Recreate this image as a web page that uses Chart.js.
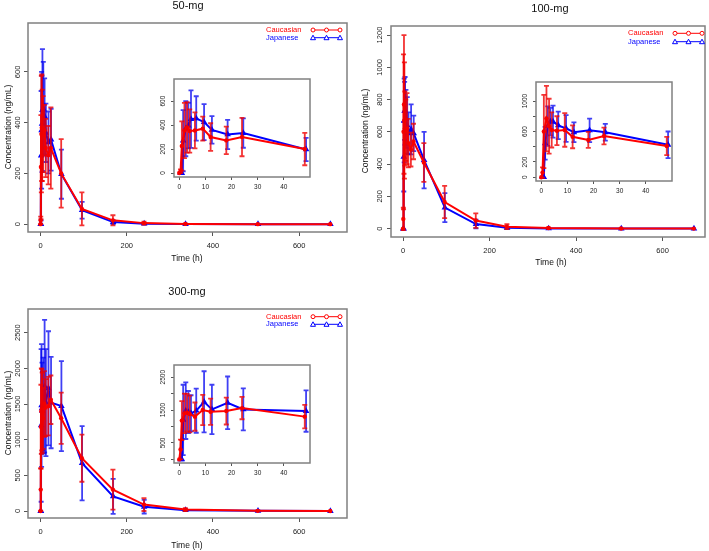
<!DOCTYPE html>
<html>
<head>
<meta charset="utf-8">
<script src="https://cdn.jsdelivr.net/npm/chart.js@4.4.0/dist/chart.umd.min.js"></script>
<style>
body { margin: 0; background: #fff; width: 709px; height: 551px; position: relative; overflow: hidden; }
canvas { position: absolute; }
</style>
</head>
<body>
<canvas id="main50" width="354" height="272" style="left:0;top:0"></canvas>
<canvas id="main100" width="353" height="272" style="left:356px;top:0"></canvas>
<canvas id="main300" width="354" height="271" style="left:0;top:280px"></canvas>
<canvas id="inset50" width="170" height="125" style="left:150px;top:70px"></canvas>
<canvas id="inset100" width="170" height="125" style="left:512px;top:72px"></canvas>
<canvas id="inset300" width="170" height="125" style="left:150px;top:355px"></canvas>
<script>
// Sampling times (h)
const cauTimes = [0, 0.5, 1, 2, 3, 4, 6, 9, 12, 18, 24, 48, 96, 168, 240, 336, 504, 672];
const jpnTimes = [0.5, 1, 1.5, 2.5, 3.5, 4.5, 6.5, 9.5, 12.5, 18.5, 24.5, 48.5, 96.5, 168.5, 240.5, 336.5, 504.5, 672.5];
const insetCount = 12; // points up to 48 h

// 50 mg (mean, SD)
const cau50   = [0, 15, 225, 355, 380, 350, 355, 370, 300, 272, 300, 200, 60, 15, 4, 1, 0, 0];
const cau50sd = [0, 15, 205, 230, 210, 180, 150, 100, 115, 115, 160, 135, 65, 20, 6, 1, 0, 0];
const jpn50   = [0, 0, 270, 370, 395, 450, 455, 425, 360, 322, 333, 197, 55, 8, 2, 0.5, 0, 0];
const jpn50sd = [0, 0, 255, 230, 190, 240, 185, 150, 115, 122, 122, 97, 33, 8, 3, 1, 0, 0];

// 100 mg
const cau100   = [0, 60, 600, 770, 670, 620, 610, 620, 530, 490, 540, 410, 165, 50, 12, 4, 1, 0];
const cau100sd = [0, 70, 480, 430, 360, 230, 190, 220, 150, 105, 110, 120, 100, 45, 15, 4, 1, 0];
const jpn100   = [0, 0, 445, 670, 730, 730, 680, 640, 590, 615, 590, 425, 130, 28, 5, 1, 0, 0];
const jpn100sd = [0, 0, 215, 260, 180, 210, 180, 175, 130, 155, 110, 175, 90, 27, 6, 2, 0, 0];

// 300 mg
const cau300   = [0, 300, 1180, 1400, 1420, 1380, 1300, 1500, 1450, 1470, 1560, 1300, 740, 300, 90, 20, 2, 0];
const cau300sd = [0, 300, 590, 600, 570, 560, 430, 460, 400, 410, 340, 360, 330, 280, 90, 20, 3, 0];
const jpn300   = [0, 0, 1200, 1480, 1440, 1400, 1480, 1750, 1520, 1720, 1520, 1470, 670, 205, 60, 12, 2, 0];
const jpn300sd = [0, 0, 1070, 860, 640, 550, 670, 930, 750, 800, 640, 630, 520, 245, 95, 15, 3, 0];

// Tick values
const xTicksMain = [0, 200, 400, 600];
const xTicksInset = [0, 10, 20, 30, 40];
const yTicks50 = [0, 200, 400, 600];
const yTicks100 = [0, 200, 400, 600, 800, 1000, 1200];
const yTicks300 = [0, 500, 1000, 1500, 2000, 2500];
const yTicksInset100 = [0, 200, 400, 600, 800, 1000];
const yLabelsInset100 = [0, 200, 600, 1000];
const yTicksInset300 = [0, 500, 1000, 1500, 2000, 2500];
const yLabelsInset300 = [0, 500, 1500, 2500];

const FONT = '"Liberation Sans", Arial, sans-serif';
const RED = '#ff0000';
const BLUE = '#0000ff';

function pts(times, vals, n) {
    return vals.slice(0, n).map((v, i) => ({ x: times[i], y: v }));
}

// error bars drawn right after each dataset
const errorBars = {
    id: 'errorBars',
    afterDatasetDraw(chart, args) {
        const ds = chart.data.datasets[args.index];
        if (!ds.sd) return;
        const xs = chart.scales.x, ys = chart.scales.y, a = chart.chartArea, ctx = chart.ctx;
        ctx.save();
        ctx.beginPath();
        ctx.rect(a.left, a.top, a.right - a.left, a.bottom - a.top);
        ctx.clip();
        ctx.strokeStyle = ds.barColor;
        ctx.lineWidth = 1.8;
        ds.data.forEach((p, i) => {
            const s = ds.sd[i];
            if (!s) return;
            const x = xs.getPixelForValue(p.x);
            const y1 = ys.getPixelForValue(p.y - s);
            const y2 = ys.getPixelForValue(p.y + s);
            ctx.beginPath();
            ctx.moveTo(x, y1); ctx.lineTo(x, y2);
            ctx.moveTo(x - 2.5, y1); ctx.lineTo(x + 2.5, y1);
            ctx.moveTo(x - 2.5, y2); ctx.lineTo(x + 2.5, y2);
            ctx.stroke();
        });
        ctx.restore();
    }
};

// box, rotated y labels, titles, legend
const decor = {
    id: 'decor',
    afterDraw(chart, args, o) {
        const { ctx, chartArea: a } = chart;
        ctx.save();
        ctx.strokeStyle = '#808080';
        ctx.lineWidth = 1.5;
        ctx.strokeRect(a.left, a.top, a.right - a.left, a.bottom - a.top);

        const ys = chart.scales.y;
        ctx.fillStyle = '#222';
        ctx.font = o.tickFont;
        ctx.textAlign = 'center';
        ctx.textBaseline = 'middle';
        o.yLabels.forEach(v => {
            ctx.save();
            ctx.translate(o.yLabelX, ys.getPixelForValue(v));
            ctx.rotate(-Math.PI / 2);
            ctx.fillText(String(v), 0, 0);
            ctx.restore();
        });

        (o.texts || []).forEach(t => {
            ctx.save();
            ctx.font = t.font;
            ctx.fillStyle = '#111';
            ctx.translate(t.x, t.y);
            if (t.rotate) ctx.rotate(-Math.PI / 2);
            ctx.fillText(t.text, 0, 0);
            ctx.restore();
        });

        const L = o.legend;
        if (L) {
            chart.data.datasets.forEach((ds, i) => {
                const y = L.y + i * L.dy;
                ctx.font = L.font;
                ctx.textAlign = 'left';
                ctx.fillStyle = ds.borderColor;
                ctx.fillText(ds.label, L.x, y);
                ctx.strokeStyle = ds.borderColor;
                ctx.lineWidth = 1;
                ctx.beginPath();
                ctx.moveTo(L.x1, y); ctx.lineTo(L.x2, y);
                ctx.stroke();
                [L.x1, (L.x1 + L.x2) / 2, L.x2].forEach(x => {
                    ctx.beginPath();
                    if (ds.pointStyle === 'triangle') {
                        ctx.moveTo(x, y - 2.5); ctx.lineTo(x - 2.5, y + 2); ctx.lineTo(x + 2.5, y + 2); ctx.closePath();
                    } else {
                        ctx.arc(x, y, 2, 0, Math.PI * 2);
                    }
                    ctx.fillStyle = '#fff';
                    ctx.fill();
                    ctx.stroke();
                });
            });
        }
        ctx.restore();
    }
};

function makeChart(id, p) {
    const n = p.n;
    return new Chart(document.getElementById(id), {
        type: 'line',
        data: {
            datasets: [
                {
                    label: 'Caucasian',
                    data: pts(cauTimes, p.cau, n),
                    sd: p.cauSd.slice(0, n),
                    borderColor: RED, backgroundColor: RED,
                    barColor: 'rgba(240,0,0,0.8)',
                    borderWidth: 2, tension: 0,
                    pointStyle: 'circle', pointRadius: 2.2, pointBorderWidth: 0
                },
                {
                    label: 'Japanese',
                    data: pts(jpnTimes, p.jpn, n),
                    sd: p.jpnSd.slice(0, n),
                    borderColor: BLUE, backgroundColor: BLUE,
                    barColor: 'rgba(0,0,240,0.75)',
                    borderWidth: 2, tension: 0,
                    pointStyle: 'triangle', pointRadius: 3.8, pointBorderWidth: 0
                }
            ]
        },
        options: {
            responsive: false,
            animation: false,
            devicePixelRatio: 1,
            layout: { padding: { left: 0, top: p.top, right: p.right, bottom: 0 } },
            scales: {
                x: {
                    type: 'linear', min: p.xMin, max: p.xMax,
                    afterBuildTicks: s => { s.ticks = p.xTicks.map(v => ({ value: v })); },
                    afterFit: s => { s.height = p.xh; },
                    grid: { drawOnChartArea: false, drawTicks: true, tickLength: p.tl, color: '#555' },
                    border: { display: false },
                    ticks: { font: { family: FONT, size: p.tickSize }, color: '#222', padding: p.tickPad, maxRotation: 0, autoSkip: false }
                },
                y: {
                    type: 'linear', min: p.yMin, max: p.yMax,
                    afterBuildTicks: s => { s.ticks = p.yTicks.map(v => ({ value: v })); },
                    afterFit: s => { s.width = p.yw; },
                    grid: { drawOnChartArea: false, drawTicks: true, tickLength: p.tl, color: '#555' },
                    border: { display: false },
                    ticks: { display: false }
                }
            },
            plugins: {
                legend: { display: false },
                tooltip: { enabled: false },
                decor: {
                    tickFont: p.tickSize + 'px ' + FONT,
                    yLabels: p.yLabels || p.yTicks,
                    yLabelX: p.yLabelX,
                    texts: p.texts,
                    legend: p.legend
                }
            }
        },
        plugins: [errorBars, decor]
    });
}

const titleFont = '11px ' + FONT;
const axisFont = '8.5px ' + FONT;
const legFont = '7.5px ' + FONT;

makeChart('main50', {
    n: cauTimes.length, cau: cau50, cauSd: cau50sd, jpn: jpn50, jpnSd: jpn50sd,
    top: 23, right: 7, yw: 28, xh: 40, tl: 4, tickPad: 5, tickSize: 7.5,
    xMin: -29, xMax: 711, yMin: -31, yMax: 793, xTicks: xTicksMain, yTicks: yTicks50, yLabelX: 18,
    texts: [
        { text: '50-mg', x: 188, y: 6, font: titleFont },
        { text: 'Time (h)', x: 187, y: 259, font: axisFont },
        { text: 'Concentration (ng/mL)', x: 9, y: 127, font: axisFont, rotate: true }
    ],
    legend: { x: 266, y: 30, dy: 7.7, x1: 313, x2: 340, font: legFont }
});

makeChart('main100', {
    n: cauTimes.length, cau: cau100, cauSd: cau100sd, jpn: jpn100, jpnSd: jpn100sd,
    top: 26, right: 2, yw: 35, xh: 35, tl: 4, tickPad: 5, tickSize: 7.5,
    xMin: -28, xMax: 698, yMin: -52, yMax: 1256, xTicks: xTicksMain, yTicks: yTicks100, yLabelX: 24,
    texts: [
        { text: '100-mg', x: 194, y: 9, font: titleFont },
        { text: 'Time (h)', x: 195, y: 263, font: axisFont },
        { text: 'Concentration (ng/mL)', x: 10, y: 131, font: axisFont, rotate: true }
    ],
    legend: { x: 272, y: 33.3, dy: 8.4, x1: 319, x2: 346, font: legFont }
});

makeChart('main300', {
    n: cauTimes.length, cau: cau300, cauSd: cau300sd, jpn: jpn300, jpnSd: jpn300sd,
    top: 29, right: 7, yw: 28, xh: 33, tl: 4, tickPad: 5, tickSize: 7.5,
    xMin: -29, xMax: 711, yMin: -98, yMax: 2832, xTicks: xTicksMain, yTicks: yTicks300, yLabelX: 18,
    texts: [
        { text: '300-mg', x: 187, y: 12, font: titleFont },
        { text: 'Time (h)', x: 187, y: 266, font: axisFont },
        { text: 'Concentration (ng/mL)', x: 9, y: 133, font: axisFont, rotate: true }
    ],
    legend: { x: 266, y: 36.7, dy: 7.6, x1: 313, x2: 340, font: legFont }
});

makeChart('inset50', {
    n: insetCount, cau: cau50, cauSd: cau50sd, jpn: jpn50, jpnSd: jpn50sd,
    top: 9, right: 10, yw: 24, xh: 18, tl: 3, tickPad: 3, tickSize: 6.5,
    xMin: -2, xMax: 50, yMin: -33, yMax: 784, xTicks: xTicksInset, yTicks: yTicks50, yLabelX: 13
});

makeChart('inset100', {
    n: insetCount, cau: cau100, cauSd: cau100sd, jpn: jpn100, jpnSd: jpn100sd,
    top: 10, right: 10, yw: 24, xh: 16, tl: 3, tickPad: 3, tickSize: 6.5,
    xMin: -2, xMax: 50, yMin: -50, yMax: 1250, xTicks: xTicksInset, yTicks: yTicksInset100,
    yLabels: yLabelsInset100, yLabelX: 13
});

makeChart('inset300', {
    n: insetCount, cau: cau300, cauSd: cau300sd, jpn: jpn300, jpnSd: jpn300sd,
    top: 10, right: 10, yw: 24, xh: 17, tl: 3, tickPad: 3, tickSize: 6.5,
    xMin: -2, xMax: 50, yMin: -110, yMax: 2870, xTicks: xTicksInset, yTicks: yTicksInset300,
    yLabels: yLabelsInset300, yLabelX: 13
});
</script>
</body>
</html>
